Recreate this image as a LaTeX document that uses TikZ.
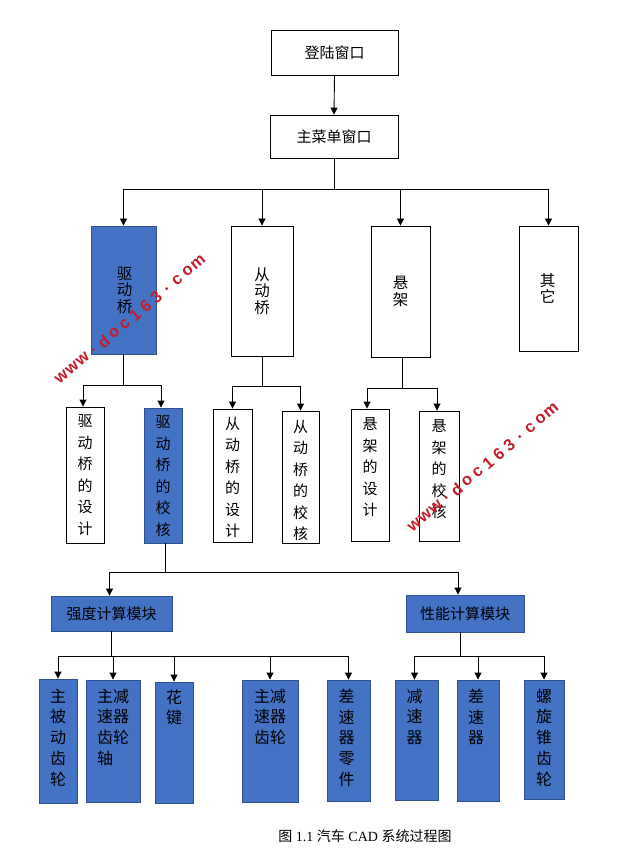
\documentclass[tikz,border=0pt]{standalone}
\usepackage{fontspec}
\usepackage{graphicx}
\setmainfont{Liberation Serif}
\newfontfamily\cjk{Noto Sans CJK SC}
\newfontfamily\wmfont{Liberation Sans}
\usetikzlibrary{arrows.meta}
\definecolor{boxblue}{HTML}{4472C4}
\definecolor{boxedge}{HTML}{2F528F}
\definecolor{wmred}{HTML}{C41E2A}
\tikzset{
  wbox/.style={draw=black, line width=0.9pt, fill=white, inner sep=0pt},
  bbox/.style={draw=boxedge, line width=0.9pt, fill=boxblue, inner sep=0pt},
  conn/.style={line width=0.9pt},
  arr/.style={line width=0.9pt, -{Triangle[width=7pt,length=7pt]}},
  htext/.style={font=\cjk\fontsize{15}{18}\selectfont, inner sep=0pt},
  ttext/.style={font=\cjk\fontsize{15.5}{16.5}\selectfont, inner sep=0pt, align=center},
  vtext/.style={font=\cjk\fontsize{15}{21.5}\selectfont, inner sep=0pt, align=center, anchor=north},
  btext/.style={font=\cjk\fontsize{16}{20.8}\selectfont, inner sep=0pt, align=left, anchor=north},
  wm/.style={font=\wmfont\bfseries\fontsize{16.5}{16.5}\selectfont, text=wmred, inner sep=0pt, rotate=40},
}
\newcommand\putbox[6]{\node[#6, minimum width={(#4)-(#2)}, minimum height={(#5)-(#3)}] (#1) at ({((#2)+(#4))/2},{((#3)+(#5))/2}) {};}
\begin{document}
\begin{tikzpicture}[x=1pt,y=-1pt]
\useasboundingbox[fill=white] (0,0) rectangle (640,858);

% boxes
\putbox{login}{271}{30}{398}{75}{wbox}
\putbox{menu}{270}{115}{398}{158}{wbox}
\putbox{d1}{91}{226}{156}{354}{bbox}
\putbox{d2}{231}{226}{293}{356}{wbox}
\putbox{d3}{371}{226}{430}{357}{wbox}
\putbox{d4}{519}{226}{578}{351}{wbox}
\putbox{e1}{66}{407}{104}{543}{wbox}
\putbox{e2}{144}{408}{182}{543}{bbox}
\putbox{e3}{213}{409}{252}{542}{wbox}
\putbox{e4}{282}{411}{319}{543}{wbox}
\putbox{e5}{351}{409}{389}{541}{wbox}
\putbox{e6}{419}{411}{459}{541}{wbox}
\putbox{m1}{51}{596}{172}{631}{bbox}
\putbox{m2}{406}{595}{524}{632}{bbox}
\putbox{f1}{39}{679}{77}{803}{bbox}
\putbox{f2}{86}{680}{140}{802}{bbox}
\putbox{f3}{155}{682}{193}{803}{bbox}
\putbox{f4}{242}{680}{298}{802}{bbox}
\putbox{f5}{327}{680}{370}{801}{bbox}
\putbox{g1}{395}{680}{438}{800}{bbox}
\putbox{g2}{457}{680}{499}{801}{bbox}
\putbox{g3}{524}{680}{564}{799}{bbox}

% texts
\node[htext] (tlogin) at (login) {登陆窗口};
\node[htext] (tmenu) at (menu) {主菜单窗口};
\node[ttext] (td1) at ([xshift=1pt]d1) {驱\\动\\桥};
\node[ttext] (td2) at (d2) {从\\动\\桥};
\node[ttext] (td3) at (d3) {悬\\架};
\node[ttext] (td4) at ([xshift=-1pt]d4) {其\\它};
\node[vtext] (te1) at ([yshift=-8pt]e1.north) {驱\\动\\桥\\的\\设\\计};
\node[vtext] (te2) at ([yshift=-8pt]e2.north) {驱\\动\\桥\\的\\校\\核};
\node[vtext] (te3) at ([yshift=-8pt]e3.north) {从\\动\\桥\\的\\设\\计};
\node[vtext] (te4) at ([yshift=-9pt]e4.north) {从\\动\\桥\\的\\校\\核};
\node[vtext] (te5) at ([yshift=-9pt]e5.north) {悬\\架\\的\\设\\计};
\node[vtext] (te6) at ([yshift=-9pt]e6.north) {悬\\架\\的\\校\\核};
\node[htext] (tm1) at (m1) {强度计算模块};
\node[htext] (tm2) at (m2) {性能计算模块};
\node[btext] (tf1) at ([yshift=-10pt]f1.north) {主\\被\\动\\齿\\轮};
\node[btext] (tf2) at ([yshift=-9pt]f2.north) {主减\\速器\\齿轮\\轴};
\node[btext] (tf3) at ([yshift=-8pt]f3.north) {花\\键};
\node[btext] (tf4) at ([yshift=-9pt]f4.north) {主减\\速器\\齿轮};
\node[btext] (tf5) at ([yshift=-9pt,xshift=-2pt]f5.north) {差\\速\\器\\零\\件};
\node[btext] (tg1) at ([yshift=-9pt,xshift=-2pt]g1.north) {减\\速\\器};
\node[btext] (tg2) at ([yshift=-9pt,xshift=-2pt]g2.north) {差\\速\\器};
\node[btext] (tg3) at ([yshift=-9pt]g3.north) {螺\\旋\\锥\\齿\\轮};

% connectors
\draw[arr] (login.south) -- (menu.north);
\coordinate (j1) at (334,189);
\draw[conn] (menu.south) -- (menu.south |- j1);
\draw[conn] (d1.north |- j1) -- (d4.north |- j1);
\foreach \n in {d1,d2,d3,d4} \draw[arr] (\n.north |- j1) -- (\n.north);

\coordinate (j2) at (0,385);
\draw[conn] (d1.south) -- (d1.south |- j2);
\draw[conn] ([xshift=-2pt]e1.north |- j2) -- ([xshift=-2pt]e2.north |- j2);
\foreach \n in {e1,e2} \draw[arr] ([xshift=-2pt]\n.north |- j2) -- ([xshift=-2pt]\n.north);

\coordinate (j3) at (0,386);
\draw[conn] (d2.south) -- (d2.south |- j3);
\draw[conn] (e3.north |- j3) -- (e4.north |- j3);
\foreach \n in {e3,e4} \draw[arr] (\n.north |- j3) -- (\n.north);

\coordinate (j4) at (0,388);
\draw[conn] ([xshift=2pt]d3.south) -- ([xshift=2pt]d3.south |- j4);
\draw[conn] ([xshift=-3pt]e5.north |- j4) -- ([xshift=-2pt]e6.north |- j4);
\draw[arr] ([xshift=-3pt]e5.north |- j4) -- ([xshift=-3pt]e5.north);
\draw[arr] ([xshift=-2pt]e6.north |- j4) -- ([xshift=-2pt]e6.north);

\coordinate (j5) at (0,572);
\draw[conn] ([xshift=2pt]e2.south) -- ([xshift=2pt]e2.south |- j5);
\draw[conn] ([xshift=-2pt]m1.north |- j5) -- ([xshift=-7pt]m2.north |- j5);
\draw[arr] ([xshift=-2pt]m1.north |- j5) -- ([xshift=-2pt]m1.north);
\draw[arr] ([xshift=-7pt]m2.north |- j5) -- ([xshift=-7pt]m2.north);

\coordinate (j6) at (0,656);
\draw[conn] (m1.south) -- (m1.south |- j6);
\draw[conn] (f1.north |- j6) -- (f5.north |- j6);
\foreach \n in {f1,f2,f3,f4,f5} \draw[arr] (\n.north |- j6) -- (\n.north);

\draw[conn] ([xshift=-5pt]m2.south) -- ([xshift=-5pt]m2.south |- j6);
\draw[conn] ([xshift=-2pt]g1.north |- j6) -- (g3.north |- j6);
\draw[arr] ([xshift=-2pt]g1.north |- j6) -- ([xshift=-2pt]g1.north);
\foreach \n in {g2,g3} \draw[arr] (\n.north |- j6) -- (\n.north);

% caption
\node[inner sep=0pt, font=\fontsize{14}{16}\selectfont] (cap) at (365,836) {{\cjk 图} 1.1 {\cjk 汽车} CAD {\cjk 系统过程图}};

% watermarks
\foreach \c [count=\i from 0] in {w,w,w,.,d,o,c,1,6,3,.,c,o,m} {
  \node[wm] (wa\i) at ({130+(\i-6.5)*13.7*cos(40)},{319.5-(\i-6.5)*13.7*sin(40)}) {\c};
  \node[wm] (wb\i) at ({483+(\i-6.5)*13.7*cos(40)},{467.5-(\i-6.5)*13.7*sin(40)}) {\c};
}
\end{tikzpicture}
\end{document}
